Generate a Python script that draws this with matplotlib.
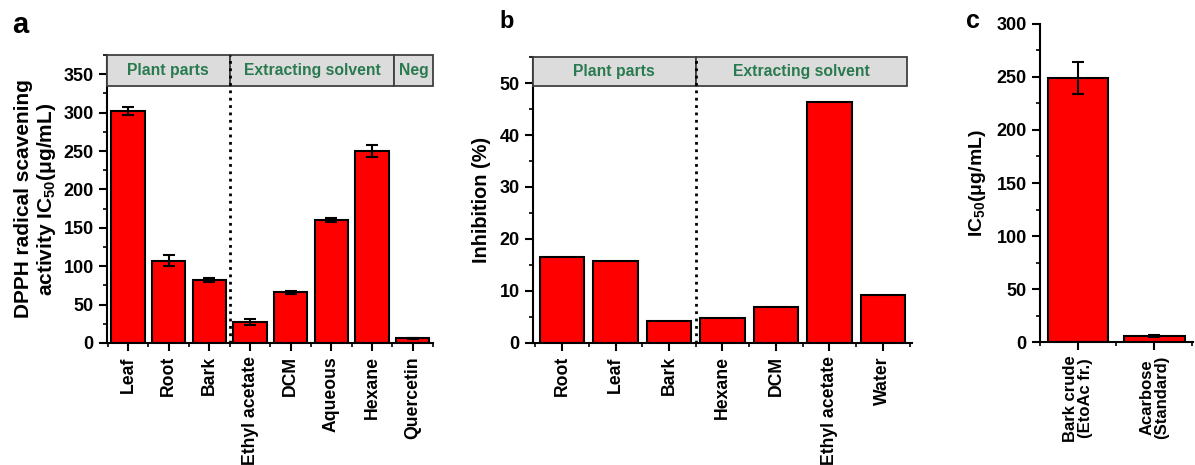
import matplotlib
matplotlib.use("Agg")
import matplotlib.pyplot as plt
from matplotlib.patches import Rectangle
from matplotlib.ticker import MultipleLocator, FixedLocator

plt.rcParams['font.family'] = ['Liberation Sans', 'DejaVu Sans']
plt.rcParams['font.weight'] = 'bold'
plt.rcParams['mathtext.default'] = 'bf'

# panel a: DPPH IC50
a_labels = ["Leaf", "Root", "Bark", "Ethyl acetate", "DCM", "Aqueous", "Hexane", "Quercetin"]
a_values = [302, 107, 82, 27, 66, 160, 250, 6]
a_errors = [5, 7, 2, 4, 2, 3, 8, 1]

# panel b: inhibition
b_labels = ["Root", "Leaf", "Bark", "Hexane", "DCM", "Ethyl acetate", "Water"]
b_values = [16.5, 15.8, 4.3, 4.9, 7.0, 46.4, 9.3]

# panel c: IC50
c_labels = ["Bark crude\n(EtoAc fr.)", "Acarbose\n(Standard)"]
c_values = [249, 6]
c_errors = [15, 1]

RED = '#ff0000'
GREEN = '#2a7a50'
BOXGRAY = '#dcdcdc'


def style_axes(ax, n, ymajor, yminor):
    for s in ['top', 'right']:
        ax.spines[s].set_visible(False)
    for s in ['left', 'bottom']:
        ax.spines[s].set_linewidth(1.5)
    ax.set_xticks(range(n))
    ax.xaxis.set_minor_locator(FixedLocator([i + 0.5 for i in range(-1, n)]))
    ax.yaxis.set_major_locator(MultipleLocator(ymajor))
    ax.yaxis.set_minor_locator(MultipleLocator(yminor))
    ax.tick_params(which='major', direction='out', length=6, width=1.5, labelsize=13)
    ax.tick_params(which='minor', direction='out', length=3, width=1.2)
    ax.tick_params(axis='x', which='major', labelrotation=90, labelsize=12.7)


def header(ax, groups, y0, y1):
    for x0, x1, text in groups:
        ax.add_patch(Rectangle((x0, y0), x1 - x0, y1 - y0, facecolor=BOXGRAY,
                               edgecolor='#404040', lw=1.3, clip_on=False, zorder=3))
        ax.text((x0 + x1) / 2, (y0 + y1) / 2, text, color=GREEN, ha='center',
                va='center', fontsize=11.3, fontweight='bold', zorder=4)


fig = plt.figure(figsize=(11.95, 4.65), dpi=100)

# ---- a
ax = fig.add_axes([0.0895, 0.2624, 0.2728, 0.6193])
x = range(len(a_values))
ax.bar(x, a_values, width=0.82, color=RED, edgecolor='black', lw=1.5, zorder=2)
ax.errorbar(x, a_values, yerr=a_errors, fmt='none', ecolor='black', elinewidth=1.5,
            capsize=4, capthick=1.5, zorder=3)
ax.set_xlim(-0.52, 7.5)
ax.set_ylim(0, 375)
style_axes(ax, len(a_values), 50, 25)
ax.set_xticklabels(a_labels)
ax.plot([2.5, 2.5], [0, 375], ls=':', color='black', lw=2, zorder=5, clip_on=False)
header(ax, [(-0.52, 2.5, "Plant parts"), (2.5, 6.55, "Extracting solvent"),
            (6.55, 7.5, "Neg")], 334, 375)
ax.set_ylabel("DPPH radical scavening\nactivity IC$_{\\mathregular{50}}$(\u03bcg/mL)",
              fontsize=15, fontweight='bold', labelpad=4, linespacing=1.1)
fig.text(0.010, 0.93, "a", fontsize=21, fontweight='bold')

# ---- b
ax = fig.add_axes([0.446, 0.2624, 0.3172, 0.615])
x = range(len(b_values))
ax.bar(x, b_values, width=0.835, color=RED, edgecolor='black', lw=1.5, zorder=2)
ax.set_xlim(-0.545, 6.545)
ax.set_ylim(0, 55)
style_axes(ax, len(b_values), 10, 5)
ax.set_xticklabels(b_labels)
ax.plot([2.5, 2.5], [0, 55], ls=':', color='black', lw=2, zorder=5, clip_on=False)
header(ax, [(-0.545, 2.5, "Plant parts"), (2.5, 6.45, "Extracting solvent")], 49.5, 55)
ax.set_ylabel("Inhibition (%)", fontsize=14.3, fontweight='bold', labelpad=6)
fig.text(0.418, 0.94, "b", fontsize=17, fontweight='bold')

# ---- c
ax = fig.add_axes([0.8703, 0.2645, 0.128, 0.6839])
x = range(len(c_values))
ax.bar(x, c_values, width=0.8, color=RED, edgecolor='black', lw=1.5, zorder=2)
ax.errorbar(x, c_values, yerr=c_errors, fmt='none', ecolor='black', elinewidth=1.5,
            capsize=4, capthick=1.5, zorder=3)
ax.set_xlim(-0.5, 1.51)
ax.set_ylim(0, 300)
style_axes(ax, len(c_values), 50, 25)
ax.set_xticklabels(c_labels, fontsize=12, linespacing=1.0)
ax.set_ylabel("IC$_{\\mathregular{50}}$(\u03bcg/mL)", fontsize=14, fontweight='bold',
              labelpad=6)
fig.text(0.808, 0.94, "c", fontsize=18, fontweight='bold')

fig.savefig("out.png", dpi=100)
